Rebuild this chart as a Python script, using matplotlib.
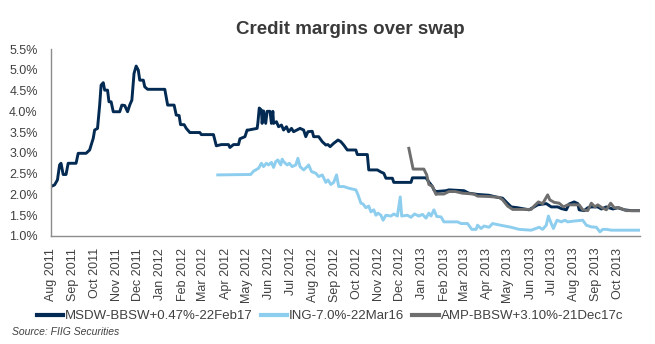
import matplotlib
matplotlib.use("Agg")
import matplotlib.pyplot as plt
import matplotlib.dates as mdates
import pandas as pd

plt.rcParams['font.family'] = ['Liberation Sans', 'DejaVu Sans']

title = "Credit margins over swap"
source = "Source: FIIG Securities"
series_names = ["MSDW-BBSW+0.47%-22Feb17", "ING-7.0%-22Mar16", "AMP-BBSW+3.10%-21Dec17c"]

msdw_dates = [
    "2011-08-01", "2011-08-06", "2011-08-10", "2011-08-13", "2011-08-15", "2011-08-18", "2011-08-22",
    "2011-08-25", "2011-09-05", "2011-09-08", "2011-09-19", "2011-09-24", "2011-09-29", "2011-10-01",
    "2011-10-05", "2011-10-08", "2011-10-10", "2011-10-13", "2011-10-15", "2011-10-19", "2011-10-21",
    "2011-10-24", "2011-10-27", "2011-11-05", "2011-11-08", "2011-11-12", "2011-11-16", "2011-11-19",
    "2011-11-22", "2011-11-25", "2011-11-28", "2011-12-01", "2011-12-03", "2011-12-08", "2011-12-10",
    "2011-12-14", "2012-01-07", "2012-01-11", "2012-01-20", "2012-01-23", "2012-01-27", "2012-01-29",
    "2012-02-03", "2012-02-06", "2012-02-11", "2012-02-25", "2012-02-27", "2012-03-15", "2012-03-19",
    "2012-03-26", "2012-04-05", "2012-04-07", "2012-04-12", "2012-04-19", "2012-04-21", "2012-04-28",
    "2012-05-01", "2012-05-03", "2012-05-15", "2012-05-16", "2012-05-18", "2012-05-21", "2012-05-22",
    "2012-05-24", "2012-05-27", "2012-05-29", "2012-06-02", "2012-06-04", "2012-06-06", "2012-06-07",
    "2012-06-11", "2012-06-14", "2012-06-18", "2012-06-21", "2012-06-25", "2012-06-28", "2012-07-02",
    "2012-07-05", "2012-07-14", "2012-07-19", "2012-07-22", "2012-07-25", "2012-07-31", "2012-08-02",
    "2012-08-09", "2012-08-14", "2012-08-19", "2012-08-22", "2012-08-25", "2012-08-30", "2012-09-05",
    "2012-09-09", "2012-09-13", "2012-09-18", "2012-09-30", "2012-10-02", "2012-10-16", "2012-10-18",
    "2012-10-30", "2012-11-04", "2012-11-08", "2012-11-11", "2012-11-20", "2012-11-22", "2012-12-16",
    "2012-12-18", "2013-01-06", "2013-01-10", "2013-01-15", "2013-01-17", "2013-01-20", "2013-02-03",
    "2013-02-07", "2013-02-28", "2013-03-07", "2013-03-19", "2013-04-04", "2013-04-16", "2013-04-23",
    "2013-04-28", "2013-05-05", "2013-05-14", "2013-05-30", "2013-06-04", "2013-06-11", "2013-06-23",
    "2013-06-30", "2013-07-09", "2013-07-14", "2013-07-21", "2013-07-25", "2013-08-01", "2013-08-06",
    "2013-08-08", "2013-08-15", "2013-08-20", "2013-08-25", "2013-09-03", "2013-09-08", "2013-09-15",
    "2013-09-24", "2013-10-01", "2013-10-10", "2013-10-20", "2013-11-01",
]
msdw_vals = [
    2.19, 2.23, 2.35, 2.71, 2.75, 2.48, 2.48,
    2.75, 2.75, 2.99, 2.99, 3.07, 3.35, 3.55,
    3.59, 4.15, 4.63, 4.69, 4.51, 4.51, 4.23,
    4.23, 3.99, 3.99, 4.15, 4.14, 3.99, 4.15,
    4.27, 4.91, 5.09, 4.99, 4.75, 4.75, 4.59,
    4.53, 4.53, 4.15, 4.15, 3.91, 3.90, 3.68,
    3.68, 3.59, 3.49, 3.49, 3.44, 3.44, 3.17,
    3.20, 3.20, 3.13, 3.20, 3.20, 3.34, 3.39,
    3.55, 3.55, 3.59, 3.71, 4.08, 4.03, 3.71,
    4.01, 3.71, 4.00, 4.00, 3.71, 4.00, 3.71,
    3.75, 3.63, 3.67, 3.55, 3.63, 3.51, 3.59,
    3.51, 3.59, 3.55, 3.39, 3.51, 3.52, 3.39,
    3.39, 3.27, 3.19, 3.20, 3.15, 3.23, 3.31,
    3.27, 3.19, 3.07, 3.07, 2.96, 2.96, 2.59,
    2.59, 2.54, 2.51, 2.39, 2.39, 2.29, 2.29,
    2.40, 2.40, 2.30, 2.19, 2.11, 2.07, 2.09,
    2.11, 2.09, 2.03, 2.00, 1.98, 1.93, 1.91,
    1.82, 1.70, 1.68, 1.63, 1.68, 1.75, 1.78,
    1.70, 1.70, 1.66, 1.63, 1.77, 1.82, 1.78,
    1.63, 1.61, 1.68, 1.70, 1.70, 1.65, 1.70,
    1.65, 1.68, 1.63, 1.61, 1.61,
]

ing_dates = [
    "2012-03-21", "2012-05-03", "2012-05-06", "2012-05-10", "2012-05-17", "2012-05-21", "2012-05-24",
    "2012-05-28", "2012-05-31", "2012-06-04", "2012-06-07", "2012-06-10", "2012-06-13", "2012-06-17",
    "2012-06-19", "2012-06-21", "2012-06-26", "2012-06-29", "2012-07-03", "2012-07-08", "2012-07-11",
    "2012-07-14", "2012-07-19", "2012-07-24", "2012-07-26", "2012-07-30", "2012-08-05", "2012-08-09",
    "2012-08-14", "2012-08-19", "2012-08-22", "2012-08-26", "2012-08-30", "2012-09-03", "2012-09-06",
    "2012-09-13", "2012-09-20", "2012-09-30", "2012-10-03", "2012-10-07", "2012-10-10", "2012-10-14",
    "2012-10-18", "2012-10-21", "2012-10-25", "2012-10-28", "2012-10-31", "2012-11-04", "2012-11-07",
    "2012-11-11", "2012-11-18", "2012-11-22", "2012-11-27", "2012-12-01", "2012-12-03", "2012-12-11",
    "2012-12-16", "2012-12-21", "2012-12-27", "2013-01-01", "2013-01-06", "2013-01-10", "2013-01-13",
    "2013-01-17", "2013-01-21", "2013-01-27", "2013-01-31", "2013-02-19", "2013-02-24", "2013-03-05",
    "2013-03-11", "2013-03-17", "2013-03-19", "2013-03-24", "2013-03-28", "2013-04-04", "2013-04-09",
    "2013-04-20", "2013-05-05", "2013-05-16", "2013-06-02", "2013-06-13", "2013-06-18", "2013-06-23",
    "2013-06-26", "2013-06-30", "2013-07-03", "2013-07-08", "2013-07-14", "2013-07-19", "2013-07-23",
    "2013-08-01", "2013-08-13", "2013-08-18", "2013-08-25", "2013-09-01", "2013-09-06", "2013-09-10",
    "2013-09-15", "2013-09-22", "2013-11-01",
]
ing_vals = [
    2.47, 2.48, 2.48, 2.56, 2.63, 2.75, 2.67,
    2.75, 2.71, 2.77, 2.65, 2.79, 2.83, 2.71,
    2.85, 2.79, 2.71, 2.75, 2.67, 2.71, 2.87,
    2.67, 2.59, 2.67, 2.71, 2.55, 2.51, 2.43,
    2.47, 2.29, 2.35, 2.24, 2.29, 2.47, 2.19,
    2.19, 2.15, 2.11, 1.99, 1.79, 1.77, 1.68,
    1.72, 1.58, 1.63, 1.50, 1.55, 1.50, 1.38,
    1.50, 1.48, 1.53, 1.48, 1.94, 1.48, 1.50,
    1.45, 1.53, 1.48, 1.52, 1.43, 1.55, 1.48,
    1.63, 1.47, 1.46, 1.34, 1.34, 1.30, 1.30,
    1.16, 1.16, 1.26, 1.18, 1.24, 1.21, 1.30,
    1.26, 1.21, 1.16, 1.14, 1.21, 1.16, 1.26,
    1.48, 1.30, 1.18, 1.38, 1.34, 1.38, 1.34,
    1.36, 1.38, 1.26, 1.22, 1.21, 1.10, 1.16,
    1.16, 1.14, 1.14,
]

amp_dates = [
    "2012-12-13", "2012-12-19", "2013-01-03", "2013-01-07", "2013-01-10", "2013-01-15", "2013-01-20",
    "2013-01-22", "2013-01-31", "2013-02-07", "2013-02-16", "2013-02-26", "2013-03-14", "2013-03-19",
    "2013-04-04", "2013-04-18", "2013-04-23", "2013-04-30", "2013-05-07", "2013-06-02", "2013-06-06",
    "2013-06-12", "2013-06-18", "2013-06-25", "2013-06-28", "2013-07-04", "2013-07-11", "2013-07-17",
    "2013-07-23", "2013-08-08", "2013-08-13", "2013-08-20", "2013-08-25", "2013-08-30", "2013-09-03",
    "2013-09-09", "2013-09-15", "2013-09-21", "2013-09-26", "2013-10-03", "2013-10-13", "2013-11-01",
]
amp_vals = [
    3.11, 2.61, 2.61, 2.47, 2.24, 2.19, 2.00,
    2.01, 2.01, 2.07, 2.07, 2.03, 2.01, 1.96,
    1.95, 1.93, 1.87, 1.72, 1.64, 1.64, 1.72,
    1.82, 1.78, 1.99, 1.87, 1.81, 1.79, 1.70,
    1.75, 1.75, 1.63, 1.61, 1.79, 1.70, 1.75,
    1.68, 1.63, 1.79, 1.68, 1.68, 1.61, 1.61,
]

y_ticks = [1.0, 1.5, 2.0, 2.5, 3.0, 3.5, 4.0, 4.5, 5.0, 5.5]
x_start, x_end = "2011-08-01", "2013-11-01"
x_tick_months = pd.date_range("2011-08-01", "2013-10-01", freq="MS")

colors = ["#022a52", "#8dcdee", "#6e6e6e"]
text_color = "#404040"

fig = plt.figure(figsize=(6.55, 3.44), dpi=100)
ax = fig.add_axes([51 / 655, 1 - 236 / 344, (640 - 51) / 655, (236 - 49) / 344])

lw = 2.1
for d, v, c, n in [(msdw_dates, msdw_vals, colors[0], series_names[0]),
                   (ing_dates, ing_vals, colors[1], series_names[1]),
                   (amp_dates, amp_vals, colors[2], series_names[2])]:
    ax.plot(pd.to_datetime(d), v, color=c, lw=lw, label=n, solid_joinstyle="round")

ax.set_xlim(pd.Timestamp(x_start), pd.Timestamp(x_end))
ax.set_ylim(y_ticks[0], y_ticks[-1])
ax.set_yticks(y_ticks)
ax.set_yticklabels([f"{t:.1f}%" for t in y_ticks])
ax.set_xticks(x_tick_months)
ax.set_xticklabels([m.strftime("%b %Y") for m in x_tick_months], rotation=90, ha="center", va="top")

ax.tick_params(axis="both", length=0, labelsize=9, colors=text_color)
ax.tick_params(axis="y", pad=9.5)
ax.tick_params(axis="x", pad=8.5)
for s in ["top", "right"]:
    ax.spines[s].set_visible(False)
for s in ["left", "bottom"]:
    ax.spines[s].set_color("#8c8c8c")
    ax.spines[s].set_linewidth(1.0)

fig.text(350 / 655, 1 - 30 / 344, title, ha="center", va="center",
         fontsize=13.5, fontweight="bold", color="#3a3a3a")

handles, labels = ax.get_legend_handles_labels()
leg = fig.legend(handles, labels, loc="center", bbox_to_anchor=(330 / 655, 1 - 316 / 344),
                 ncol=3, frameon=False, fontsize=9.5, handlelength=2.0, handletextpad=0.15,
                 columnspacing=0.6, borderaxespad=0, borderpad=0)
for t in leg.get_texts():
    t.set_color(text_color)
for h in leg.legend_handles:
    h.set_linewidth(3)

fig.text(12 / 655, 1 - 332 / 344, source, ha="left", va="center",
         fontsize=7.5, style="italic", color=text_color)

fig.savefig("out.png", dpi=100, facecolor="white")
